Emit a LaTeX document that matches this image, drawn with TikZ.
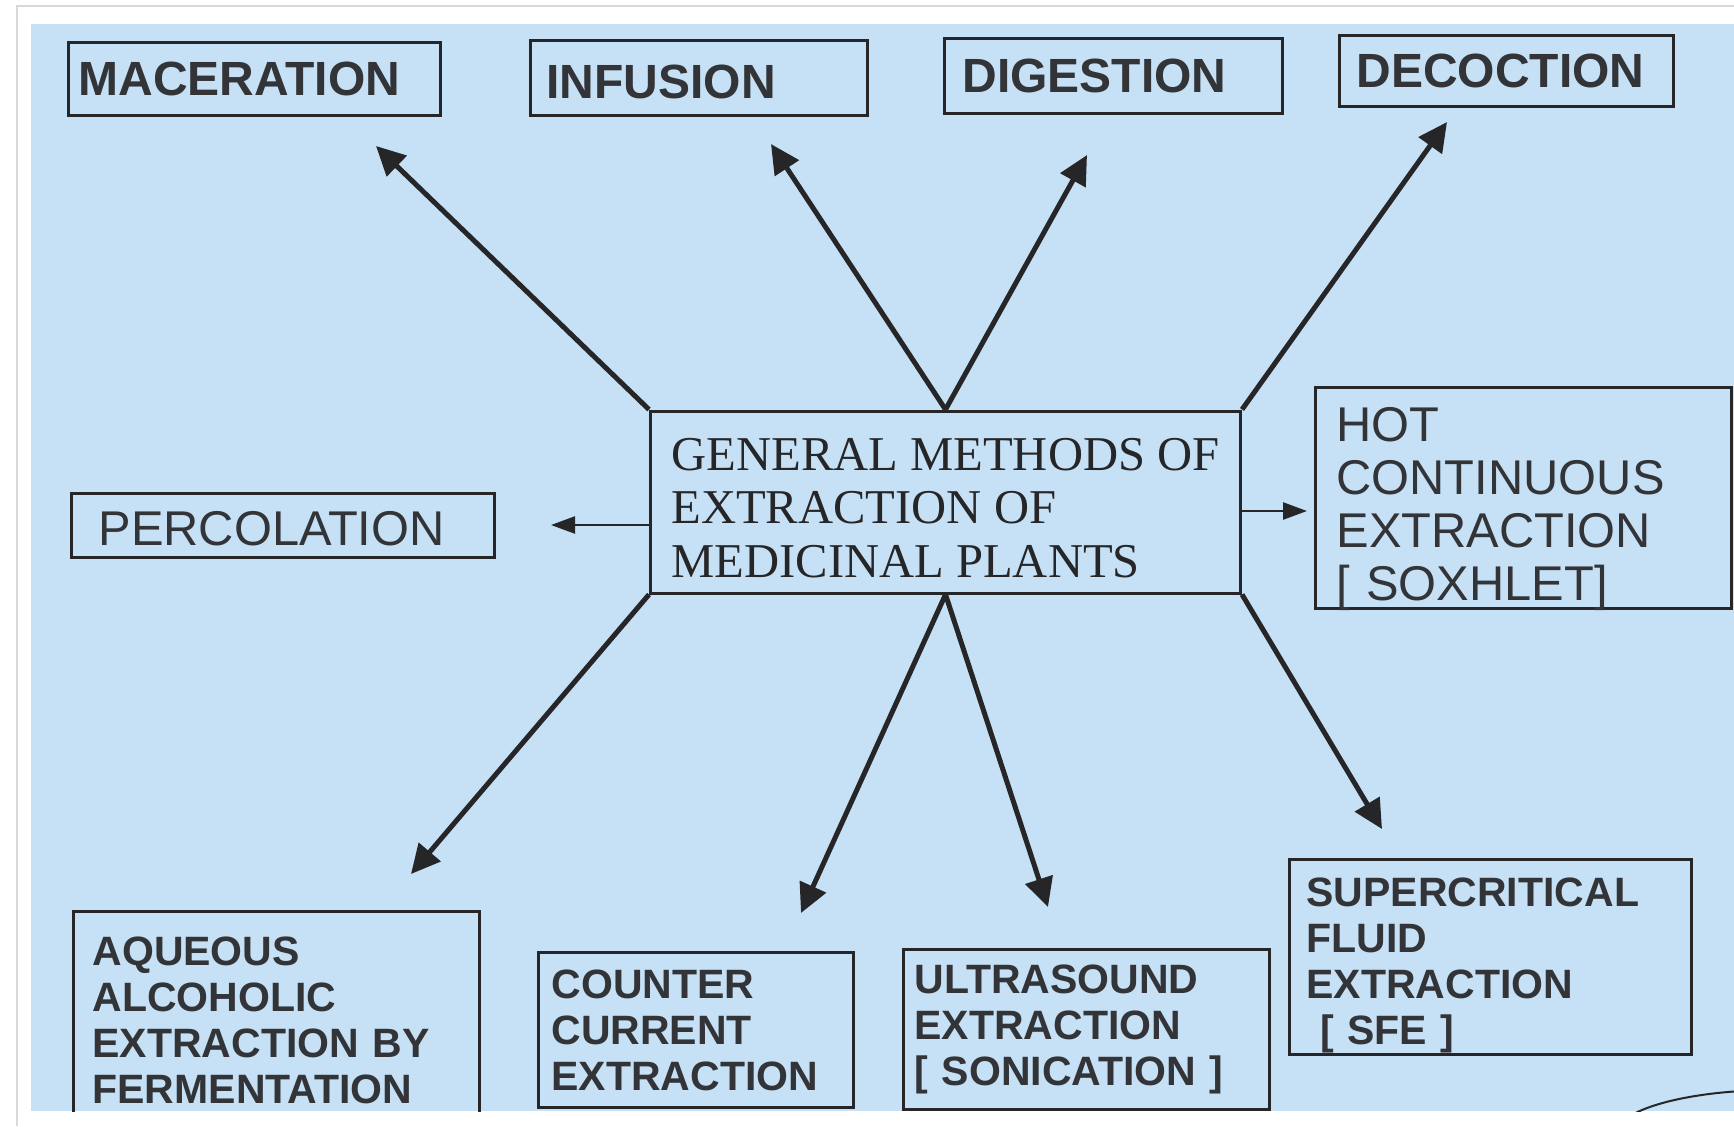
\documentclass[tikz,border=0pt]{standalone}
\usepackage{fontspec}
\setmainfont{Liberation Serif}
\newfontfamily\arialfont{Liberation Sans}
\usetikzlibrary{arrows.meta}

\definecolor{sheetblue}{RGB}{198,225,245}
\definecolor{inkgray}{RGB}{38,38,40}
\definecolor{textgray}{RGB}{50,52,56}

\newcommand{\flatline}[1]{\raisebox{0pt}[\height][0pt]{#1}}

\tikzset{
  methodbox/.style={draw=inkgray, line width=1.5pt, rectangle, anchor=west, align=left, text=textgray},
  topfont/.style={font=\arialfont\bfseries\fontsize{24pt}{26pt}\selectfont},
  sidefont/.style={font=\arialfont\fontsize{24.4pt}{26.5pt}\selectfont},
  lowfont/.style={font=\arialfont\bfseries\fontsize{20.5pt}{23pt}\selectfont},
  mainfont/.style={font=\fontsize{24.3pt}{26.8pt}\selectfont},
  bigarrow/.style={draw=inkgray, line width=2.5pt, -{Triangle[length=14.5pt,width=14pt]}},
  smallarrow/.style={draw=inkgray, line width=1.25pt, -{Triangle[length=12pt,width=8.5pt]}}
}

\begin{document}
\begin{tikzpicture}[x=0.5pt, y=-0.5pt]

        \useasboundingbox (0,0) rectangle (1734,1126);

        % Page frame
        \draw[gray!30, line width=1pt] (17,1126) -- (17,6) -- (1734,6);

        \begin{scope}
        \clip (31,24) rectangle (1734,1111);
        \fill[sheetblue] (31,24) rectangle (1734,1111);

        % Centre box
        \node[methodbox, mainfont, text=inkgray, minimum width=295pt, minimum height=91pt, inner ysep=2pt] (gen) at (649,502)
            {\rule{0pt}{22pt}GENERAL METHODS OF\\EXTRACTION OF\\MEDICINAL PLANTS};

        % Top row
        \node[methodbox, topfont, inner xsep=5pt, text width=176pt, minimum height=36.5pt] (mac) at (67,78.5) {MACERATION};
        \node[methodbox, topfont, inner xsep=8pt, text width=152.5pt, minimum height=37.5pt] (inf) at (529,77.5) {\rule{0pt}{21pt}INFUSION};
        \node[methodbox, topfont, inner xsep=9pt, text width=151pt, minimum height=37.5pt] (dig) at (943,75.5) {DIGESTION};
        \node[methodbox, topfont, inner xsep=8.5pt, text width=150pt, minimum height=35.5pt] (dec) at (1338,70.5) {DECOCTION};

        % Sides
        \node[methodbox, sidefont, inner xsep=13.5pt, text width=184.5pt, minimum height=32pt] (perc) at (70,525) {\rule{0pt}{21pt}PERCOLATION};
        \node[methodbox, sidefont, inner xsep=10.5pt, inner ysep=2pt, text width=187pt, minimum height=110.5pt] (hot) at (1314,497.5)
            {\rule{0pt}{23pt}HOT\\CONTINUOUS\\EXTRACTION\\\flatline{[ SOXHLET]}};

        % Bottom row
        \node[methodbox, lowfont, inner xsep=9.5pt, text width=184pt, minimum height=109pt] (aq) at (72,1020)
            {AQUEOUS\\ALCOHOLIC\\EXTRACTION BY\\FERMENTATION};
        \node[methodbox, lowfont, inner xsep=6.5pt, text width=144.5pt, minimum height=77.5pt] (cc) at (537,1030)
            {COUNTER\\CURRENT\\EXTRACTION};
        \node[methodbox, lowfont, inner xsep=5.5pt, text width=172pt, minimum height=80pt] (us) at (902,1029)
            {ULTRASOUND\\EXTRACTION\\{[} SONICATION ]};
        \node[methodbox, lowfont, inner xsep=8.5pt, text width=184pt, minimum height=97.5pt] (sfe) at (1288,956.5)
            {\rule{0pt}{18.5pt}SUPERCRITICAL\\FLUID\\EXTRACTION\\\ \flatline{[ SFE ]}};

        % Arrow tips
        \coordinate (macTip) at (376,146);
        \coordinate (infTip) at (771,144);
        \coordinate (digTip) at (1087,155);
        \coordinate (decTip) at (1447,122);
        \coordinate (percTip) at (551,525);
        \coordinate (hotTip) at (1307,511);
        \coordinate (aqTip) at (411,874);
        \coordinate (ccTip) at (801,913);
        \coordinate (usTip) at (1048,907);
        \coordinate (sfeTip) at (1382,829);

        % Arrows
        \draw[bigarrow] (gen.north west) -- (macTip);
        \draw[bigarrow] (gen.north) -- (infTip);
        \draw[bigarrow] (gen.north) -- (digTip);
        \draw[bigarrow] (gen.north east) -- (decTip);
        \draw[smallarrow] (gen.west |- percTip) -- (percTip);
        \draw[smallarrow] (gen.east |- hotTip) -- (hotTip);
        \draw[bigarrow] (gen.south west) -- (aqTip);
        \draw[bigarrow] (gen.south) -- (ccTip);
        \draw[bigarrow] (gen.south) -- (usTip);
        \draw[bigarrow] (gen.south east) -- (sfeTip);

        % Cut-off oval, bottom right
        \draw[inkgray, line width=1pt] (1775,1135) ellipse (160 and 45);
        \end{scope}

\end{tikzpicture}
\end{document}
